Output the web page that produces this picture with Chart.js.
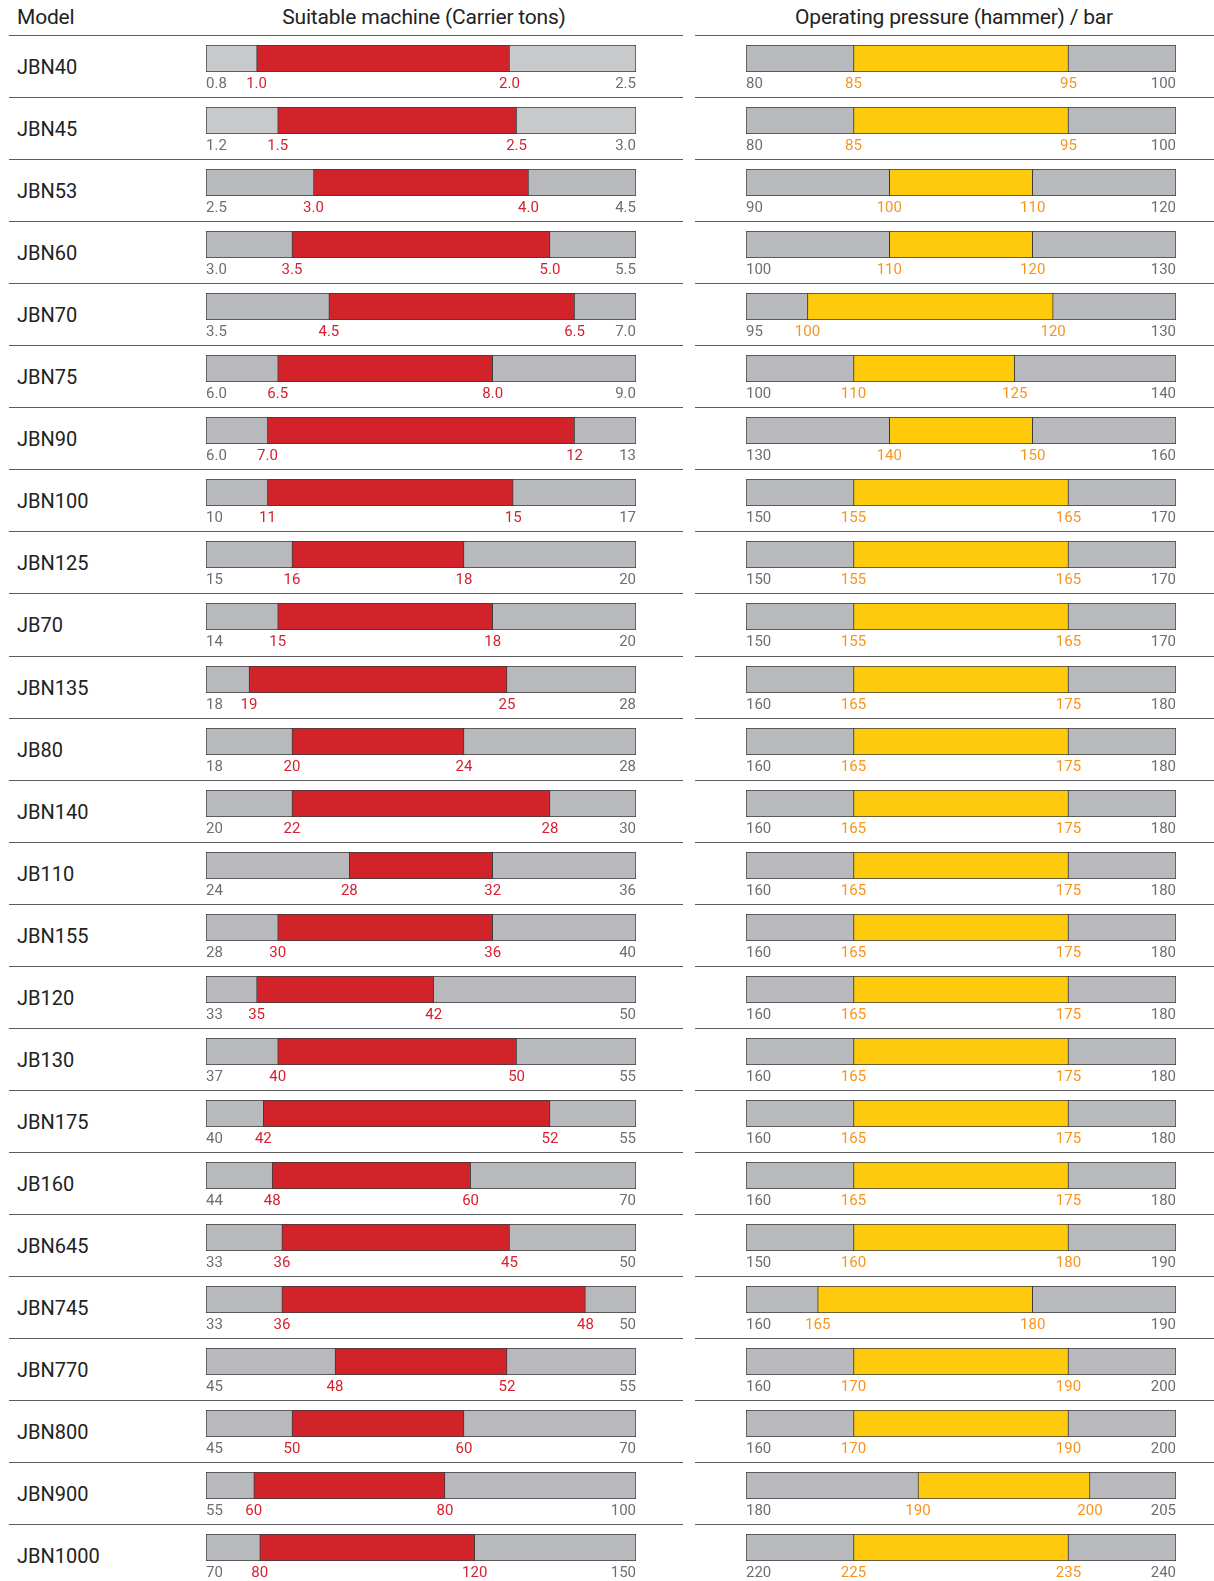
<!DOCTYPE html>
<html lang="en">
<head>
  <meta charset="UTF-8">
  <title>Breaker range table</title>
  <script src="https://cdn.jsdelivr.net/npm/chart.js"></script>
  <style>
    body {
      margin: 0;
      background: #fff;
      font-family: Roboto, "Noto Sans", sans-serif;
      color: #222;
    }
    #sheet {
      position: relative;
      width: 1214px;
      height: 1581px;
      overflow: hidden;
    }
    .head {
      position: absolute;
      top: 3px;
      font-size: 21px;
      line-height: 28px;
      letter-spacing: -0.2px;
      white-space: nowrap;
    }
    .rule {
      position: absolute;
      height: 1px;
      background: #5c5c5c;
    }
    .model {
      position: absolute;
      left: 17px;
      height: 62px;
      line-height: 62px;
      font-size: 20px;
    }
    canvas {
      position: absolute;
    }
  </style>
</head>
<body>
  <div id="sheet">
    <div class="head" style="left:17px">Model</div>
    <div class="head" style="left:424px;transform:translateX(-50%)">Suitable machine (Carrier tons)</div>
    <div class="head" style="left:954px;transform:translateX(-50%)">Operating pressure (hammer) / bar</div>
  </div>

  <script>
    const models = ['JBN40', 'JBN45', 'JBN53', 'JBN60', 'JBN70', 'JBN75', 'JBN90', 'JBN100', 'JBN125', 'JB70',
      'JBN135', 'JB80', 'JBN140', 'JB110', 'JBN155', 'JB120', 'JB130', 'JBN175', 'JB160', 'JBN645',
      'JBN745', 'JBN770', 'JBN800', 'JBN900', 'JBN1000'];

    // min, suitable from, suitable to, max
    const carrierTons = [
      ['0.8', '1.0', '2.0', '2.5'], ['1.2', '1.5', '2.5', '3.0'], ['2.5', '3.0', '4.0', '4.5'],
      ['3.0', '3.5', '5.0', '5.5'], ['3.5', '4.5', '6.5', '7.0'], ['6.0', '6.5', '8.0', '9.0'],
      ['6.0', '7.0', '12', '13'], ['10', '11', '15', '17'], ['15', '16', '18', '20'],
      ['14', '15', '18', '20'], ['18', '19', '25', '28'], ['18', '20', '24', '28'],
      ['20', '22', '28', '30'], ['24', '28', '32', '36'], ['28', '30', '36', '40'],
      ['33', '35', '42', '50'], ['37', '40', '50', '55'], ['40', '42', '52', '55'],
      ['44', '48', '60', '70'], ['33', '36', '45', '50'], ['33', '36', '48', '50'],
      ['45', '48', '52', '55'], ['45', '50', '60', '70'], ['55', '60', '80', '100'],
      ['70', '80', '120', '150']
    ];

    const pressureBar = [
      ['80', '85', '95', '100'], ['80', '85', '95', '100'], ['90', '100', '110', '120'],
      ['100', '110', '120', '130'], ['95', '100', '120', '130'], ['100', '110', '125', '140'],
      ['130', '140', '150', '160'], ['150', '155', '165', '170'], ['150', '155', '165', '170'],
      ['150', '155', '165', '170'], ['160', '165', '175', '180'], ['160', '165', '175', '180'],
      ['160', '165', '175', '180'], ['160', '165', '175', '180'], ['160', '165', '175', '180'],
      ['160', '165', '175', '180'], ['160', '165', '175', '180'], ['160', '165', '175', '180'],
      ['160', '165', '175', '180'], ['150', '160', '180', '190'], ['160', '165', '180', '190'],
      ['160', '170', '190', '200'], ['160', '170', '190', '200'], ['180', '190', '200', '205'],
      ['220', '225', '235', '240']
    ];

    const sheet = document.getElementById('sheet');
    const PITCH = 62.05;
    const EDGE = '#3b3b3b';
    const TICK_PAD = 3; // chart.js also insets the plot sideways by this much

    function addRule(left, right, y) {
      const d = document.createElement('div');
      d.className = 'rule';
      d.style.left = left + 'px';
      d.style.width = (right - left) + 'px';
      d.style.top = y + 'px';
      sheet.appendChild(d);
    }

    function rangeChart(left, top, labels, fill, accent, rest) {
      const v = labels.map(Number);
      const canvas = document.createElement('canvas');
      canvas.width = 430 + TICK_PAD * 2;
      canvas.height = 48;
      canvas.style.left = (left - TICK_PAD) + 'px';
      canvas.style.top = top + 'px';
      sheet.appendChild(canvas);

      const barOpts = {
        borderColor: EDGE,
        borderWidth: 1,
        borderSkipped: false,
        grouped: false,
        barPercentage: 1,
        categoryPercentage: 1
      };

      new Chart(canvas, {
        type: 'bar',
        data: {
          labels: [''],
          datasets: [
            Object.assign({ data: [[v[1], v[2]]], backgroundColor: fill }, barOpts),
            Object.assign({ data: [[v[0], v[3]]], backgroundColor: rest }, barOpts)
          ]
        },
        options: {
          indexAxis: 'y',
          responsive: false,
          animation: false,
          events: [],
          layout: { padding: 0 },
          plugins: {
            legend: { display: false },
            tooltip: { enabled: false }
          },
          scales: {
            x: {
              type: 'linear',
              min: v[0],
              max: v[3],
              grid: { display: false, drawTicks: false },
              border: { display: false },
              afterBuildTicks: axis => {
                axis.ticks = v.map(value => ({ value }));
              },
              afterFit: axis => {
                axis.height = 21;
              },
              ticks: {
                autoSkip: false,
                maxRotation: 0,
                align: 'inner',
                padding: TICK_PAD,
                font: { family: 'Roboto', size: 15 },
                color: ctx => (ctx.index === 1 || ctx.index === 2) ? accent : '#6d6e70',
                callback: (val, i) => labels[i]
              }
            },
            y: { display: false }
          }
        }
      });
    }

    addRule(9, 683, 35);
    addRule(695, 1214, 35);

    models.forEach((name, i) => {
      const lineY = Math.round(35 + PITCH * i);
      if (i > 0) {
        addRule(9, 683, lineY);
        addRule(695, 1214, lineY);
      }
      const label = document.createElement('div');
      label.className = 'model';
      label.style.top = (lineY + 1) + 'px';
      label.textContent = name;
      sheet.appendChild(label);

      const barTop = Math.round(45 + PITCH * i);
      const leftGray = i < 2 ? '#c8c9cb' : '#b8b9bc';
      rangeChart(206, barTop, carrierTons[i], '#d2232b', '#d7202f', leftGray);
      rangeChart(746, barTop, pressureBar[i], '#ffc90c', '#f7941d', '#b8b9bc');
    });
  </script>
</body>
</html>
